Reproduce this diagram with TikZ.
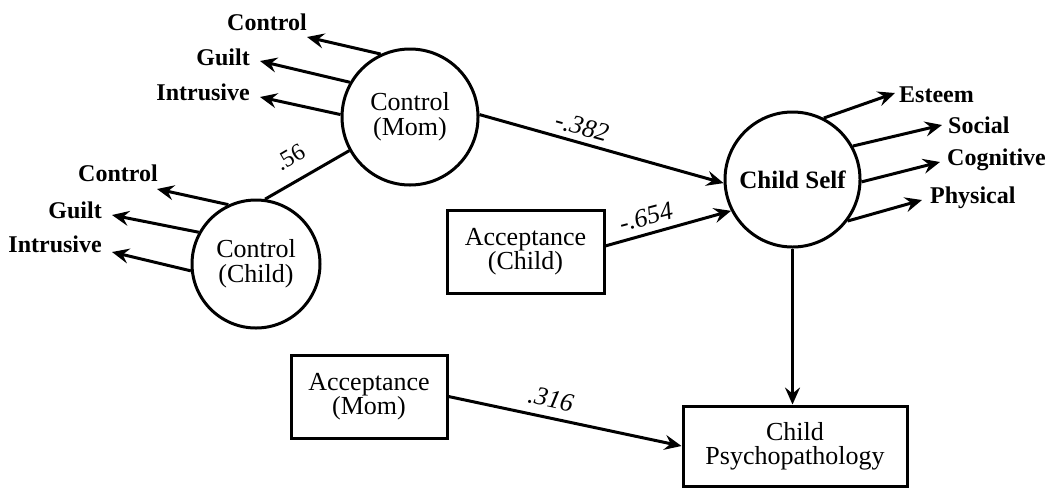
\documentclass[tikz,border=0pt]{standalone}
\usepackage{fontspec}
\setmainfont{Liberation Serif}
\usetikzlibrary{arrows.meta}
\begin{document}
\begin{tikzpicture}[x=1pt,y=-1pt,
  every node/.style={inner sep=0pt},
  lbl/.style={font=\fontsize{24}{25}\selectfont\bfseries},
  coef/.style={font=\fontsize{26}{26}\selectfont\itshape},
  latent/.style={circle,draw,line width=3pt,minimum size=#1,align=center,
                 font=\fontsize{26}{25}\selectfont},
  measured/.style={rectangle,draw,line width=3pt,align=center,
                   font=\fontsize{26}{24}\selectfont},
  link/.style={line width=3pt},
  arr/.style={line width=3pt,-{Stealth[length=17pt,width=15pt,inset=6pt]}}
]
\useasboundingbox (0,0) rectangle (1056,488);

% latent constructs
\node[latent=136pt] (cm) at (410,117) {Control\\(Mom)};
\node[latent=128pt] (cc) at (256,264) {Control\\(Child)};
\node[latent=135pt,font=\fontsize{25}{25}\selectfont\bfseries] (cs) at (792.5,179.5) {Child Self};

% observed measures
\node[measured,minimum width=157pt,minimum height=83pt] (ac) at (525.5,251.5) {Acceptance\\(Child)};
\node[measured,minimum width=156pt,minimum height=83pt] (am) at (369,396.5) {Acceptance\\(Mom)};
\node[measured,minimum width=224pt,minimum height=80pt] (cp) at (795,446) {Child\\Psychopathology};

% indicators of Control (Mom)
\node[lbl,anchor=east] (mC) at (307,22) {Control};
\node[lbl,anchor=east] (mG) at (250,57) {Guilt};
\node[lbl,anchor=east] (mI) at (250,92) {Intrusive};
\coordinate (mCt) at (307,37);
\coordinate (mGt) at (260,61);
\coordinate (mIt) at (260,97);
\draw[arr] (cm.115) -- (mCt);
\draw[arr] (cm.150) -- (mGt);
\draw[arr] (cm.178) -- (mIt);

% indicators of Control (Child)
\node[lbl,anchor=east] (kC) at (158,173) {Control};
\node[lbl,anchor=east] (kG) at (102,210) {Guilt};
\node[lbl,anchor=east] (kI) at (102,244) {Intrusive};
\coordinate (kCt) at (157,189);
\coordinate (kGt) at (112,215);
\coordinate (kIt) at (112,252);
\draw[arr] (cc.115) -- (kCt);
\draw[arr] (cc.151) -- (kGt);
\draw[arr] (cc.186) -- (kIt);

% indicators of Child Self
\node[lbl,anchor=west] (sE) at (899,95) {Esteem};
\node[lbl,anchor=west] (sS) at (948,125) {Social};
\node[lbl,anchor=west] (sC) at (947,160) {Cognitive};
\node[lbl,anchor=west] (sP) at (930,198) {Physical};
\coordinate (sEt) at (895,93);
\coordinate (sSt) at (942,125);
\coordinate (sCt) at (940,162);
\coordinate (sPt) at (922,200);
\draw[arr] (cs.63) -- (sEt);
\draw[arr] (cs.29) -- (sSt);
\draw[arr] (cs.-2) -- (sCt);
\draw[arr] (cs.-37) -- (sPt);

% structural paths
\draw[link] (cc.82) -- (cm.209);
\node[font=\fontsize{24}{24}\selectfont,rotate=30.6] (r56) at (290,157) {.56};

\draw[arr] (cm.2) -- (cs.183);
\node[coef,rotate=-15.4] (r382) at (582,127) {-.382};

\draw[arr] (ac.4) -- (cs.207);
\node[coef,rotate=14.8] (r654) at (646,217) {-.654};

\draw[arr] (am.east) -- (cp.west);
\node[coef,rotate=-12.4] (r316) at (551,399) {.316};

\draw[arr] (cs.south) -- (cs.south |- cp.north);
\end{tikzpicture}
\end{document}
